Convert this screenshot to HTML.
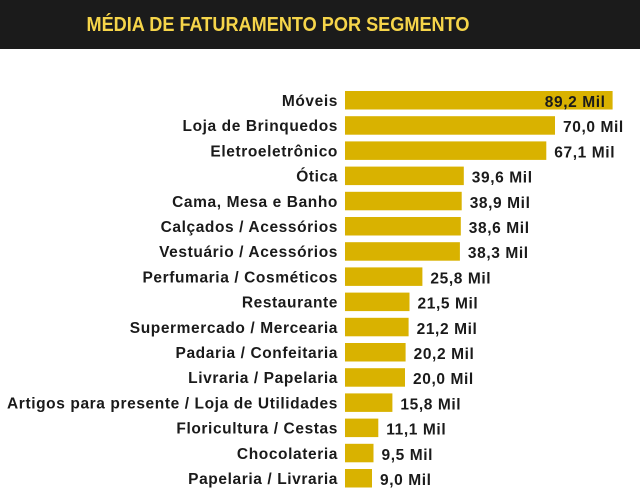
<!DOCTYPE html>
<html><head><meta charset="utf-8"><style>
html,body{margin:0;padding:0;background:#fff;width:640px;height:495px;overflow:hidden;font-family:"Liberation Sans",sans-serif}
#hdr{position:absolute;left:0;top:0;width:640px;height:49px;background:#1b1b1b}
</style></head><body>
<div id="hdr"></div>
<svg id="chart" width="640" height="495" style="position:absolute;left:0;top:0">
<text x="278" y="31" text-anchor="middle" font-size="20" font-weight="bold" fill="#f6d54a" textLength="383" lengthAdjust="spacingAndGlyphs">MÉDIA DE FATURAMENTO POR SEGMENTO</text>
</svg>
<script>
const categories=["Móveis","Loja de Brinquedos","Eletroeletrônico","Ótica","Cama, Mesa e Banho","Calçados / Acessórios","Vestuário / Acessórios","Perfumaria / Cosméticos","Restaurante","Supermercado / Mercearia","Padaria / Confeitaria","Livraria / Papelaria","Artigos para presente / Loja de Utilidades","Floricultura / Cestas","Chocolateria","Papelaria / Livraria"];
const values=[89.2,70.0,67.1,39.6,38.9,38.6,38.3,25.8,21.5,21.2,20.2,20.0,15.8,11.1,9.5,9.0];
const valueLabels=["89,2 Mil","70,0 Mil","67,1 Mil","39,6 Mil","38,9 Mil","38,6 Mil","38,3 Mil","25,8 Mil","21,5 Mil","21,2 Mil","20,2 Mil","20,0 Mil","15,8 Mil","11,1 Mil","9,5 Mil","9,0 Mil"];
const ns="http://www.w3.org/2000/svg";
const svg=document.getElementById('chart');
const x0=345,k=3.0;
const xs=v=>x0+v*k;
const ys=i=>91+i*25.2;
const bh=18.5;
categories.forEach((c,i)=>{
  const y=ys(i);
  const r=document.createElementNS(ns,'rect');
  r.setAttribute('x',x0);r.setAttribute('y',y);
  r.setAttribute('width',xs(values[i])-x0);r.setAttribute('height',bh);
  r.setAttribute('fill','#d9b200');
  
  
  svg.appendChild(r);
  const t=document.createElementNS(ns,'text');
  t.setAttribute('x',338);t.setAttribute('y',y+15);
  t.setAttribute('text-anchor','end');
  t.setAttribute('font-size','15.5');t.setAttribute('font-weight','bold');t.setAttribute('fill','#1a1a1a');
  t.setAttribute('letter-spacing','0.6');
  t.textContent=c;
  
  
  svg.appendChild(t);
  const v=document.createElementNS(ns,'text');
  const end=xs(values[i]);
  const inside=end>560;
  v.setAttribute('x',inside?end-7:end+8);
  v.setAttribute('y',y+16);
  v.setAttribute('text-anchor',inside?'end':'start');
  v.setAttribute('font-size','15.5');v.setAttribute('font-weight','bold');v.setAttribute('fill','#1a1a1a');
  v.setAttribute('letter-spacing','0.6');
  v.textContent=valueLabels[i];
  
  
  svg.appendChild(v);
});
</script>
</body></html>
